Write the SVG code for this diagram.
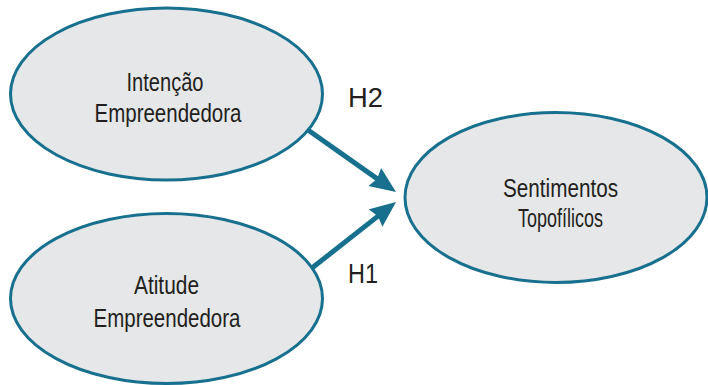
<svg xmlns="http://www.w3.org/2000/svg" width="708" height="385" viewBox="0 0 708 385">
<style>
.node ellipse{fill:#e6e7e8;stroke:#18708f;stroke-width:3}
.lbl{font-family:"Liberation Sans",Arial,sans-serif;font-size:26.5px;fill:#231f20;text-anchor:middle}
.h{font-family:"Liberation Sans",Arial,sans-serif;font-size:27px;fill:#231f20}
.edge{stroke:#18708f;stroke-width:5;fill:none}
</style>
<defs>
<marker id="ah" markerUnits="userSpaceOnUse" markerWidth="30" markerHeight="26" viewBox="0 0 30 26" refX="14" refY="11" orient="auto">
<path d="M0,0 L26,11 L0,22 L3,11 Z" fill="#18708f"/>
</marker>
</defs>
<g id="connectors">
<line class="edge" x1="308" y1="130" x2="386.2" y2="185.1" marker-end="url(#ah)"/>
<line class="edge" x1="312" y1="268" x2="386.6" y2="209.4" marker-end="url(#ah)"/>
</g>
<g id="intencao" class="node">
<ellipse cx="166.5" cy="94" rx="156" ry="86"/>
<text class="lbl" x="165" y="91" textLength="77" lengthAdjust="spacingAndGlyphs">Intenção</text>
<text class="lbl" x="168" y="122" textLength="147" lengthAdjust="spacingAndGlyphs">Empreendedora</text>
</g>
<g id="atitude" class="node">
<ellipse cx="166.5" cy="298.5" rx="156" ry="85"/>
<text class="lbl" x="166.5" y="294" textLength="65" lengthAdjust="spacingAndGlyphs">Atitude</text>
<text class="lbl" x="167" y="327" textLength="147" lengthAdjust="spacingAndGlyphs">Empreendedora</text>
</g>
<g id="sentimentos" class="node">
<ellipse cx="556" cy="197.5" rx="151" ry="85"/>
<text class="lbl" x="560.5" y="197" textLength="115" lengthAdjust="spacingAndGlyphs">Sentimentos</text>
<text class="lbl" x="560.5" y="226.5" textLength="85" lengthAdjust="spacingAndGlyphs">Topofílicos</text>
</g>
<g id="labels">
<text class="h" x="348" y="106.5" textLength="35" lengthAdjust="spacingAndGlyphs">H2</text>
<text class="h" x="348" y="283" textLength="30" lengthAdjust="spacingAndGlyphs">H1</text>
</g>
</svg>
